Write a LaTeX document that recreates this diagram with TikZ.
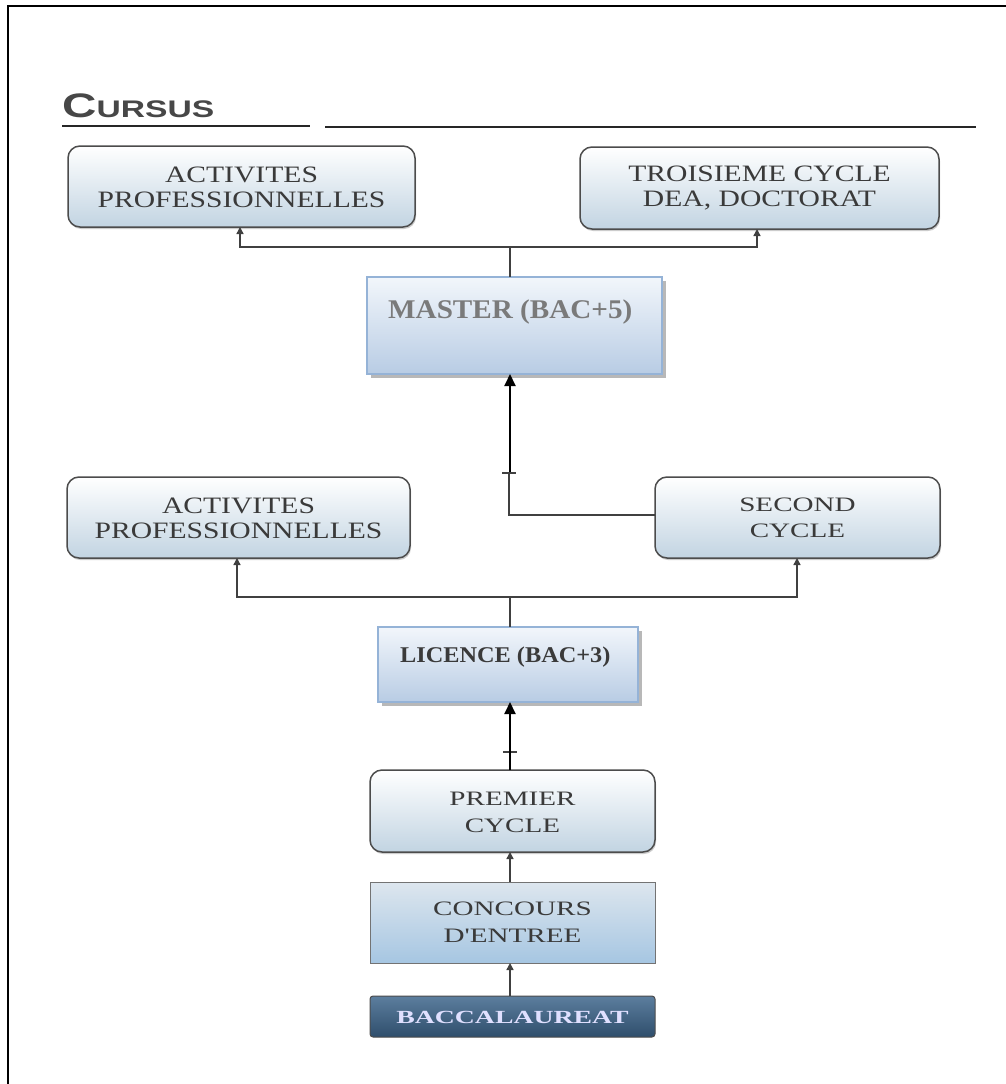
\documentclass[tikz,border=0pt]{standalone}
\usepackage{fontspec}
\usetikzlibrary{shadows,arrows.meta}
\newfontfamily\fa[FakeStretch=1.26]{Liberation Serif}
\newfontfamily\fb[FakeStretch=1.42]{Liberation Serif}
\newfontfamily\fc[FakeStretch=1.5]{Liberation Serif}
\newfontfamily\fm[FakeStretch=1.08]{Liberation Serif}
\newfontfamily\ft[FakeStretch=1.4]{Liberation Sans}
\definecolor{txt}{HTML}{3A3A3A}
\definecolor{bbot}{HTML}{C2D4E2}
\definecolor{mtop}{HTML}{F2F6FB}
\definecolor{mbot}{HTML}{B8CCE4}
\definecolor{mbord}{HTML}{95B3D7}
\definecolor{ctop}{HTML}{DDE6EE}
\definecolor{cbot}{HTML}{A6C6E2}
\definecolor{bactop}{HTML}{5C7E9E}
\definecolor{bacbot}{HTML}{2F4E6C}
\tikzset{
  x=1pt,y=-1pt,
  rbox/.style={draw=black!70,line width=1.5pt,rounded corners=12pt,top color=white,bottom color=bbot,
    drop shadow={shadow xshift=1pt,shadow yshift=-2pt,opacity=0.4},inner sep=0pt},
  sbox/.style={draw=mbord,line width=2pt,top color=mtop,bottom color=mbot,
    drop shadow={shadow xshift=4pt,shadow yshift=-4pt,opacity=0.5,fill=black!55},inner sep=0pt},
  conn/.style={draw=black!75,line width=1.4pt},
  arr/.style={conn,-{Triangle[length=7pt,width=7pt]}},
  barr/.style={draw=black,line width=2pt,-{Triangle[length=12pt,width=11pt]}}
}
\begin{document}
\begin{tikzpicture}
\useasboundingbox (0,0) rectangle (1006,1084);
\fill[white] (0,0) rectangle (1006,1084);
% frame
\draw[line width=1.6pt] (8,1084) -- (8,6) -- (1006,6);
% title
\node[anchor=base west,inner sep=0pt,text=black!72] (title) at (62,117) {\ft\bfseries\fontsize{34}{34}\selectfont C\fontsize{24}{24}\selectfont URSUS};
\draw[line width=2.4pt,black!85] (62,126) -- (310,126);
\draw[line width=2.4pt,black!85] (325,127) -- (976,127);
% top boxes
\path[rbox] (68,146) rectangle (415,227);
\node[text=txt,align=center,font=\fa\fontsize{23.5}{25}\selectfont] (ap1) at (241.5,187) {ACTIVITES\\PROFESSIONNELLES};
\path[rbox] (580,147) rectangle (939,229);
\node[text=txt,align=center,font=\fa\fontsize{23.5}{25}\selectfont] (tc) at (759.5,188) {TROISIEME CYCLE\\DEA, DOCTORAT};
% master
\path[sbox] (367,277) rectangle (662,374);
\node[anchor=base west,inner sep=0pt,text=black!52,font=\fm\bfseries\fontsize{27}{27}\selectfont] (master) at (388,318) {MASTER (BAC+5)};
\coordinate (mtop) at (510,277);
\coordinate (mbotc) at (510,374);
% connectors top
\draw[conn] (mtop) -- (510,247);
\draw[arr] (510,247) -- (240,247) -- (240,227);
\draw[arr] (510,247) -- (757,247) -- (757,229);
% middle boxes
\path[rbox] (67,477) rectangle (410,558);
\node[text=txt,align=center,font=\fa\fontsize{23.5}{25}\selectfont] (ap2) at (238.5,518) {ACTIVITES\\PROFESSIONNELLES};
\path[rbox] (655,477) rectangle (940,558);
\node[text=txt,align=center,font=\fb\fontsize{20.5}{26}\selectfont] (sc) at (797.5,518) {SECOND\\CYCLE};
\coordinate (scw) at (655,515);
\draw[conn] (scw) -- (509,515) -- (509,473);
\draw[line width=1.4pt,black!75] (502,473) -- (516,473);
\draw[barr] (510,472) -- (mbotc);
% licence
\path[sbox] (378,627) rectangle (638,702);
\node[anchor=base west,inner sep=0pt,text=txt,font=\fm\bfseries\fontsize{22.5}{22.5}\selectfont] (lic) at (400,662) {LICENCE (BAC+3)};
\draw[conn] (510,627) -- (510,597);
\draw[arr] (510,597) -- (237,597) -- (237,558);
\draw[arr] (510,597) -- (797,597) -- (797,558);
% premier cycle
\path[rbox] (370,770) rectangle (655,852);
\node[text=txt,align=center,font=\fb\fontsize{20.5}{27}\selectfont] (pc) at (512.5,812) {PREMIER\\CYCLE};
\draw[line width=1.4pt,black!75] (503,752) -- (517,752);
\draw[barr] (510,770) -- (510,702);
% concours
\path[draw=black!55,line width=1pt,top color=ctop,bottom color=cbot] (370,882) rectangle (655,963);
\node[text=txt,align=center,font=\fb\fontsize{20.5}{27}\selectfont] (cc) at (512.5,922) {CONCOURS\\D'ENTREE};
\draw[arr] (510,882) -- (510,852);
% bac
\path[draw=black!70,line width=1pt,rounded corners=3pt,top color=bactop,bottom color=bacbot] (370,996) rectangle (655,1037);
\node[text=white!88!blue,font=\fc\bfseries\fontsize{18.5}{18.5}\selectfont] (bac) at (512.5,1017) {BACCALAUREAT};
\draw[arr] (510,996) -- (510,963);
\end{tikzpicture}
\end{document}
